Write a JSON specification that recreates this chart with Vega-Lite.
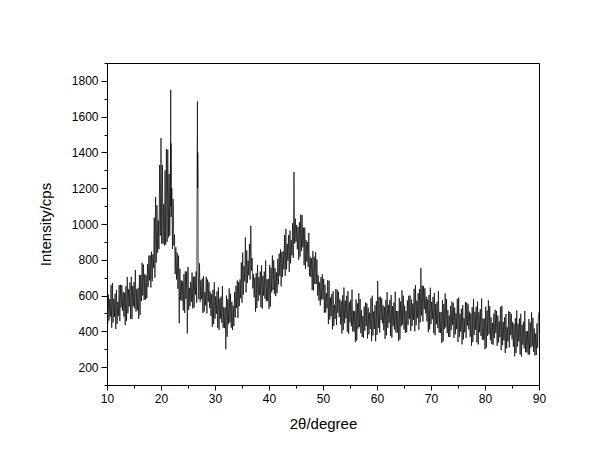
{
  "$schema": "https://vega.github.io/schema/vega-lite/v6.json",
  "width": 432,
  "height": 322,
  "autosize": "none",
  "padding": {"left": 107, "top": 63, "right": 61, "bottom": 81},
  "background": "white",
  "config": {
    "view": {"stroke": "black", "strokeWidth": 1},
    "axis": {"labelFont": "Liberation Sans", "titleFont": "Liberation Sans", "labelColor": "black", "titleColor": "black", "domainColor": "black", "tickColor": "black", "grid": false, "titleFontWeight": "normal"}
  },
  "data": {"values": [
    {"a":10.0,"i":635},{"a":10.125,"i":440},{"a":10.25,"i":605},{"a":10.375,"i":460},{"a":10.5,"i":580},{"a":10.625,"i":483},{"a":10.75,"i":658},{"a":10.875,"i":420},
    {"a":11.0,"i":670},{"a":11.125,"i":450},{"a":11.25,"i":582},{"a":11.375,"i":480},{"a":11.5,"i":610},{"a":11.625,"i":413},{"a":11.75,"i":631},{"a":11.875,"i":442},
    {"a":12.0,"i":565},{"a":12.125,"i":487},{"a":12.25,"i":659},{"a":12.375,"i":458},{"a":12.5,"i":660},{"a":12.625,"i":533},{"a":12.75,"i":658},{"a":12.875,"i":515},
    {"a":13.0,"i":620},{"a":13.125,"i":482},{"a":13.25,"i":616},{"a":13.375,"i":434},{"a":13.5,"i":652},{"a":13.625,"i":459},{"a":13.75,"i":703},{"a":13.875,"i":501},
    {"a":14.0,"i":635},{"a":14.125,"i":538},{"a":14.25,"i":673},{"a":14.375,"i":470},{"a":14.5,"i":705},{"a":14.625,"i":468},{"a":14.75,"i":653},{"a":14.875,"i":540},
    {"a":15.0,"i":675},{"a":15.125,"i":528},{"a":15.25,"i":743},{"a":15.375,"i":510},{"a":15.5,"i":635},{"a":15.625,"i":518},{"a":15.75,"i":643},{"a":15.875,"i":470},
    {"a":16.0,"i":715},{"a":16.125,"i":492},{"a":16.25,"i":716},{"a":16.375,"i":569},{"a":16.5,"i":783},{"a":16.625,"i":600},{"a":16.75,"i":773},{"a":16.875,"i":576},
    {"a":17.0,"i":720},{"a":17.125,"i":578},{"a":17.25,"i":713},{"a":17.375,"i":585},{"a":17.5,"i":775},{"a":17.625,"i":648},{"a":17.75,"i":823},{"a":17.875,"i":685},
    {"a":18.0,"i":825},{"a":18.125,"i":645},{"a":18.25,"i":845},{"a":18.375,"i":680},{"a":18.5,"i":830},{"a":18.625,"i":755},{"a":18.75,"i":1035},{"a":18.875,"i":700},
    {"a":19.0,"i":1150},{"a":19.125,"i":785},{"a":19.25,"i":1105},{"a":19.375,"i":840},{"a":19.5,"i":1020},{"a":19.625,"i":860},{"a":19.75,"i":1330},{"a":19.875,"i":935},
    {"a":20.0,"i":1480},{"a":20.125,"i":890},{"a":20.25,"i":1330},{"a":20.375,"i":890},{"a":20.5,"i":1110},{"a":20.625,"i":880},{"a":20.75,"i":1300},{"a":20.875,"i":885},
    {"a":21.0,"i":1420},{"a":21.125,"i":900},{"a":21.25,"i":1415},{"a":21.375,"i":925},{"a":21.5,"i":1280},{"a":21.625,"i":935},{"a":21.75,"i":1335},
    {"a":21.78,"i":1490},{"a":21.8,"i":1750},{"a":21.83,"i":1100},{"a":21.86,"i":1450},{"a":21.875,"i":1040},
    {"a":22.0,"i":1200},{"a":22.125,"i":860},{"a":22.25,"i":1140},{"a":22.375,"i":880},{"a":22.5,"i":940},{"a":22.625,"i":720},{"a":22.75,"i":870},{"a":22.875,"i":690},
    {"a":23.0,"i":840},{"a":23.125,"i":638},{"a":23.25,"i":823},{"a":23.375,"i":445},{"a":23.5,"i":750},{"a":23.625,"i":575},{"a":23.75,"i":685},{"a":23.875,"i":570},
    {"a":24.0,"i":680},{"a":24.125,"i":517},{"a":24.25,"i":719},{"a":24.375,"i":503},{"a":24.5,"i":735},{"a":24.625,"i":582},{"a":24.75,"i":734},{"a":24.875,"i":388},
    {"a":25.0,"i":760},{"a":25.125,"i":521},{"a":25.25,"i":643},{"a":25.375,"i":542},{"a":25.5,"i":675},{"a":25.625,"i":566},{"a":25.75,"i":729},{"a":25.875,"i":528},
    {"a":26.0,"i":705},{"a":26.125,"i":532},{"a":26.25,"i":707},{"a":26.375,"i":605},{"a":26.5,"i":735},{"a":26.625,"i":560},
    {"a":26.7,"i":1380},{"a":26.75,"i":1685},{"a":26.78,"i":1200},{"a":26.81,"i":1400},{"a":26.85,"i":1250},{"a":26.875,"i":770},
    {"a":27.0,"i":580},{"a":27.125,"i":780},{"a":27.25,"i":565},{"a":27.375,"i":685},{"a":27.5,"i":580},{"a":27.625,"i":695},{"a":27.75,"i":503},{"a":27.875,"i":708},
    {"a":28.0,"i":510},{"a":28.125,"i":620},{"a":28.25,"i":545},{"a":28.375,"i":705},{"a":28.5,"i":500},{"a":28.625,"i":690},{"a":28.75,"i":565},{"a":28.875,"i":675},
    {"a":29.0,"i":530},{"a":29.125,"i":622},{"a":29.25,"i":486},{"a":29.375,"i":608},{"a":29.5,"i":425},{"a":29.625,"i":633},{"a":29.75,"i":441},{"a":29.875,"i":674},
    {"a":30.0,"i":470},{"a":30.125,"i":595},{"a":30.25,"i":498},{"a":30.375,"i":623},{"a":30.5,"i":420},{"a":30.625,"i":645},{"a":30.75,"i":408},{"a":30.875,"i":583},
    {"a":31.0,"i":470},{"a":31.125,"i":595},{"a":31.25,"i":448},{"a":31.375,"i":653},{"a":31.5,"i":420},{"a":31.625,"i":535},{"a":31.75,"i":418},{"a":31.875,"i":533},
    {"a":32.0,"i":300},{"a":32.125,"i":600},{"a":32.25,"i":370},{"a":32.375,"i":580},{"a":32.5,"i":440},{"a":32.625,"i":640},{"a":32.75,"i":450},{"a":32.875,"i":610},
    {"a":33.0,"i":420},{"a":33.125,"i":565},{"a":33.25,"i":408},{"a":33.375,"i":543},{"a":33.5,"i":430},{"a":33.625,"i":620},{"a":33.75,"i":478},{"a":33.875,"i":653},
    {"a":34.0,"i":530},{"a":34.125,"i":685},{"a":34.25,"i":475},{"a":34.375,"i":675},{"a":34.5,"i":540},{"a":34.625,"i":690},{"a":34.75,"i":585},{"a":34.875,"i":785},
    {"a":35.0,"i":560},{"a":35.125,"i":840},{"a":35.25,"i":605},{"a":35.375,"i":765},{"a":35.5,"i":680},{"a":35.625,"i":925},{"a":35.75,"i":618},{"a":35.875,"i":853},
    {"a":36.0,"i":670},{"a":36.125,"i":795},{"a":36.25,"i":713},{"a":36.375,"i":888},{"a":36.5,"i":690},{"a":36.625,"i":990},{"a":36.75,"i":740},{"a":36.875,"i":810},
    {"a":37.0,"i":640},{"a":37.125,"i":720},{"a":37.25,"i":590},{"a":37.375,"i":700},{"a":37.5,"i":510},{"a":37.625,"i":725},{"a":37.75,"i":530},{"a":37.875,"i":770},
    {"a":38.0,"i":570},{"a":38.125,"i":703},{"a":38.25,"i":602},{"a":38.375,"i":734},{"a":38.5,"i":535},{"a":38.625,"i":768},{"a":38.75,"i":527},{"a":38.875,"i":709},
    {"a":39.0,"i":600},{"a":39.125,"i":734},{"a":39.25,"i":582},{"a":39.375,"i":796},{"a":39.5,"i":568},{"a":39.625,"i":691},{"a":39.75,"i":570},{"a":39.875,"i":693},
    {"a":40.0,"i":525},{"a":40.125,"i":771},{"a":40.25,"i":538},{"a":40.375,"i":755},{"a":40.5,"i":618},{"a":40.625,"i":824},{"a":40.75,"i":631},{"a":40.875,"i":797},
    {"a":41.0,"i":610},{"a":41.125,"i":753},{"a":41.25,"i":597},{"a":41.375,"i":729},{"a":41.5,"i":615},{"a":41.625,"i":803},{"a":41.75,"i":662},{"a":41.875,"i":834},
    {"a":42.0,"i":710},{"a":42.125,"i":858},{"a":42.25,"i":652},{"a":42.375,"i":844},{"a":42.5,"i":705},{"a":42.625,"i":848},{"a":42.75,"i":747},{"a":42.875,"i":939},
    {"a":43.0,"i":710},{"a":43.125,"i":973},{"a":43.25,"i":747},{"a":43.375,"i":889},{"a":43.5,"i":795},{"a":43.625,"i":938},{"a":43.75,"i":732},{"a":43.875,"i":964},
    {"a":44.0,"i":780},{"a":44.125,"i":910},{"a":44.25,"i":825},{"a":44.375,"i":1005},{"a":44.5,"i":810},{"a":44.625,"i":1290},{"a":44.75,"i":890},{"a":44.875,"i":1030},
    {"a":45.0,"i":900},{"a":45.125,"i":995},{"a":45.25,"i":858},{"a":45.375,"i":983},{"a":45.5,"i":800},{"a":45.625,"i":1010},{"a":45.75,"i":818},{"a":45.875,"i":1053},
    {"a":46.0,"i":850},{"a":46.125,"i":1050},{"a":46.25,"i":870},{"a":46.375,"i":980},{"a":46.5,"i":770},{"a":46.625,"i":980},{"a":46.75,"i":750},{"a":46.875,"i":910},
    {"a":47.0,"i":790},{"a":47.125,"i":900},{"a":47.25,"i":760},{"a":47.375,"i":950},{"a":47.5,"i":710},{"a":47.625,"i":815},{"a":47.75,"i":703},{"a":47.875,"i":808},
    {"a":48.0,"i":630},{"a":48.125,"i":848},{"a":48.25,"i":629},{"a":48.375,"i":817},{"a":48.5,"i":665},{"a":48.625,"i":843},{"a":48.75,"i":664},{"a":48.875,"i":802},
    {"a":49.0,"i":600},{"a":49.125,"i":713},{"a":49.25,"i":572},{"a":49.375,"i":674},{"a":49.5,"i":545},{"a":49.625,"i":703},{"a":49.75,"i":577},{"a":49.875,"i":719},
    {"a":50.0,"i":580},{"a":50.125,"i":693},{"a":50.25,"i":504},{"a":50.375,"i":661},{"a":50.5,"i":505},{"a":50.625,"i":613},{"a":50.75,"i":529},{"a":50.875,"i":686},
    {"a":51.0,"i":440},{"a":51.125,"i":683},{"a":51.25,"i":466},{"a":51.375,"i":589},{"a":51.5,"i":485},{"a":51.625,"i":608},{"a":51.75,"i":411},{"a":51.875,"i":624},
    {"a":52.0,"i":430},{"a":52.125,"i":548},{"a":52.25,"i":469},{"a":52.375,"i":636},{"a":52.5,"i":435},{"a":52.625,"i":633},{"a":52.75,"i":504},{"a":52.875,"i":621},
    {"a":53.0,"i":480},{"a":53.125,"i":579},{"a":53.25,"i":439},{"a":53.375,"i":568},{"a":53.5,"i":388},{"a":53.625,"i":601},{"a":53.75,"i":407},{"a":53.875,"i":645},
    {"a":54.0,"i":445},{"a":54.125,"i":571},{"a":54.25,"i":473},{"a":54.375,"i":599},{"a":54.5,"i":398},{"a":54.625,"i":624},{"a":54.75,"i":386},{"a":54.875,"i":562},
    {"a":55.0,"i":450},{"a":55.125,"i":575},{"a":55.25,"i":428},{"a":55.375,"i":633},{"a":55.5,"i":400},{"a":55.625,"i":515},{"a":55.75,"i":398},{"a":55.875,"i":513},
    {"a":56.0,"i":340},{"a":56.125,"i":578},{"a":56.25,"i":349},{"a":56.375,"i":556},{"a":56.5,"i":415},{"a":56.625,"i":613},{"a":56.75,"i":424},{"a":56.875,"i":581},
    {"a":57.0,"i":390},{"a":57.125,"i":518},{"a":57.25,"i":369},{"a":57.375,"i":486},{"a":57.5,"i":365},{"a":57.625,"i":538},{"a":57.75,"i":404},{"a":57.875,"i":561},
    {"a":58.0,"i":430},{"a":58.125,"i":556},{"a":58.25,"i":360},{"a":58.375,"i":532},{"a":58.5,"i":383},{"a":58.625,"i":504},{"a":58.75,"i":413},{"a":58.875,"i":585},
    {"a":59.0,"i":345},{"a":59.125,"i":599},{"a":59.25,"i":377},{"a":59.375,"i":511},{"a":59.5,"i":413},{"a":59.625,"i":546},{"a":59.75,"i":344},{"a":59.875,"i":568},
    {"a":60.0,"i":380},{"a":60.125,"i":681},{"a":60.25,"i":420},{"a":60.375,"i":592},{"a":60.5,"i":393},{"a":60.625,"i":594},{"a":60.75,"i":463},{"a":60.875,"i":584},
    {"a":61.0,"i":445},{"a":61.125,"i":546},{"a":61.25,"i":406},{"a":61.375,"i":537},{"a":61.5,"i":358},{"a":61.625,"i":574},{"a":61.75,"i":378},{"a":61.875,"i":619},
    {"a":62.0,"i":420},{"a":62.125,"i":548},{"a":62.25,"i":449},{"a":62.375,"i":576},{"a":62.5,"i":375},{"a":62.625,"i":603},{"a":62.75,"i":364},{"a":62.875,"i":541},
    {"a":63.0,"i":430},{"a":63.125,"i":561},{"a":63.25,"i":410},{"a":63.375,"i":622},{"a":63.5,"i":393},{"a":63.625,"i":514},{"a":63.75,"i":393},{"a":63.875,"i":514},
    {"a":64.0,"i":345},{"a":64.125,"i":586},{"a":64.25,"i":355},{"a":64.375,"i":567},{"a":64.5,"i":428},{"a":64.625,"i":629},{"a":64.75,"i":438},{"a":64.875,"i":599},
    {"a":65.0,"i":410},{"a":65.125,"i":543},{"a":65.25,"i":391},{"a":65.375,"i":514},{"a":65.5,"i":395},{"a":65.625,"i":573},{"a":65.75,"i":436},{"a":65.875,"i":599},
    {"a":66.0,"i":470},{"a":66.125,"i":600},{"a":66.25,"i":403},{"a":66.375,"i":578},{"a":66.5,"i":430},{"a":66.625,"i":555},{"a":66.75,"i":463},{"a":66.875,"i":638},
    {"a":67.0,"i":400},{"a":67.125,"i":658},{"a":67.25,"i":434},{"a":67.375,"i":571},{"a":67.5,"i":475},{"a":67.625,"i":613},{"a":67.75,"i":409},{"a":67.875,"i":636},
    {"a":68.0,"i":450},{"a":68.125,"i":753},{"a":68.25,"i":489},{"a":68.375,"i":656},{"a":68.5,"i":455},{"a":68.625,"i":653},{"a":68.75,"i":524},{"a":68.875,"i":641},
    {"a":69.0,"i":500},{"a":69.125,"i":593},{"a":69.25,"i":456},{"a":69.375,"i":579},{"a":69.5,"i":395},{"a":69.625,"i":603},{"a":69.75,"i":411},{"a":69.875,"i":644},
    {"a":70.0,"i":440},{"a":70.125,"i":565},{"a":70.25,"i":468},{"a":70.375,"i":593},{"a":70.5,"i":390},{"a":70.625,"i":615},{"a":70.75,"i":378},{"a":70.875,"i":553},
    {"a":71.0,"i":440},{"a":71.125,"i":566},{"a":71.25,"i":418},{"a":71.375,"i":624},{"a":71.5,"i":393},{"a":71.625,"i":509},{"a":71.75,"i":391},{"a":71.875,"i":507},
    {"a":72.0,"i":335},{"a":72.125,"i":574},{"a":72.25,"i":344},{"a":72.375,"i":553},{"a":72.5,"i":413},{"a":72.625,"i":611},{"a":72.75,"i":422},{"a":72.875,"i":581},
    {"a":73.0,"i":390},{"a":73.125,"i":519},{"a":73.25,"i":369},{"a":73.375,"i":488},{"a":73.5,"i":368},{"a":73.625,"i":541},{"a":73.75,"i":407},{"a":73.875,"i":566},
    {"a":74.0,"i":435},{"a":74.125,"i":559},{"a":74.25,"i":364},{"a":74.375,"i":533},{"a":74.5,"i":383},{"a":74.625,"i":501},{"a":74.75,"i":412},{"a":74.875,"i":581},
    {"a":75.0,"i":340},{"a":75.125,"i":589},{"a":75.25,"i":369},{"a":75.375,"i":498},{"a":75.5,"i":398},{"a":75.625,"i":526},{"a":75.75,"i":327},{"a":75.875,"i":546},
    {"a":76.0,"i":355},{"a":76.125,"i":474},{"a":76.25,"i":394},{"a":76.375,"i":563},{"a":76.5,"i":363},{"a":76.625,"i":561},{"a":76.75,"i":432},{"a":76.875,"i":551},
    {"a":77.0,"i":410},{"a":77.125,"i":510},{"a":77.25,"i":370},{"a":77.375,"i":500},{"a":77.5,"i":320},{"a":77.625,"i":535},{"a":77.75,"i":340},{"a":77.875,"i":580},
    {"a":78.0,"i":380},{"a":78.125,"i":509},{"a":78.25,"i":409},{"a":78.375,"i":538},{"a":78.5,"i":338},{"a":78.625,"i":566},{"a":78.75,"i":327},{"a":78.875,"i":506},
    {"a":79.0,"i":395},{"a":79.125,"i":524},{"a":79.25,"i":374},{"a":79.375,"i":583},{"a":79.5,"i":353},{"a":79.625,"i":471},{"a":79.75,"i":352},{"a":79.875,"i":471},
    {"a":80.0,"i":300},{"a":80.125,"i":538},{"a":80.25,"i":309},{"a":80.375,"i":516},{"a":80.5,"i":375},{"a":80.625,"i":573},{"a":80.75,"i":384},{"a":80.875,"i":541},
    {"a":81.0,"i":350},{"a":81.125,"i":478},{"a":81.25,"i":329},{"a":81.375,"i":446},{"a":81.5,"i":325},{"a":81.625,"i":498},{"a":81.75,"i":364},{"a":81.875,"i":521},
    {"a":82.0,"i":390},{"a":82.125,"i":514},{"a":82.25,"i":319},{"a":82.375,"i":488},{"a":82.5,"i":338},{"a":82.625,"i":456},{"a":82.75,"i":367},{"a":82.875,"i":536},
    {"a":83.0,"i":295},{"a":83.125,"i":543},{"a":83.25,"i":324},{"a":83.375,"i":452},{"a":83.5,"i":350},{"a":83.625,"i":478},{"a":83.75,"i":279},{"a":83.875,"i":497},
    {"a":84.0,"i":305},{"a":84.125,"i":423},{"a":84.25,"i":344},{"a":84.375,"i":512},{"a":84.5,"i":310},{"a":84.625,"i":508},{"a":84.75,"i":379},{"a":84.875,"i":497},
    {"a":85.0,"i":355},{"a":85.125,"i":453},{"a":85.25,"i":314},{"a":85.375,"i":442},{"a":85.5,"i":260},{"a":85.625,"i":473},{"a":85.75,"i":279},{"a":85.875,"i":517},
    {"a":86.0,"i":315},{"a":86.125,"i":443},{"a":86.25,"i":344},{"a":86.375,"i":472},{"a":86.5,"i":270},{"a":86.625,"i":498},{"a":86.75,"i":259},{"a":86.875,"i":437},
    {"a":87.0,"i":325},{"a":87.125,"i":454},{"a":87.25,"i":305},{"a":87.375,"i":514},{"a":87.5,"i":283},{"a":87.625,"i":401},{"a":87.75,"i":282},{"a":87.875,"i":401},
    {"a":88.0,"i":270},{"a":88.125,"i":469},{"a":88.25,"i":270},{"a":88.375,"i":449},{"a":88.5,"i":308},{"a":88.625,"i":506},{"a":88.75,"i":317},{"a":88.875,"i":476},
    {"a":89.0,"i":285},{"a":89.125,"i":416},{"a":89.25,"i":265},{"a":89.375,"i":387},{"a":89.5,"i":268},{"a":89.625,"i":444},{"a":89.75,"i":308},{"a":89.875,"i":469},
    {"a":90.0,"i":510}
  ]},
  "mark": {"type": "line", "color": "black", "strokeWidth": 0.7, "clip": true},
  "encoding": {
    "x": {"field": "a", "type": "quantitative",
      "scale": {"domain": [10, 90], "nice": false, "zero": false},
      "axis": {"title": "2θ/degree", "titleFontSize": 15, "titlePadding": 12, "labelFontSize": 12, "labelPadding": 3,
        "values": [10,15,20,25,30,35,40,45,50,55,60,65,70,75,80,85,90],
        "labelExpr": "datum.value % 10 === 0 ? datum.label : ''",
        "tickSize": {"condition": {"test": "datum.value % 10 === 0", "value": 5}, "value": 3},
        "labelFlush": false, "labelOverlap": false}},
    "y": {"field": "i", "type": "quantitative",
      "scale": {"domain": [100, 1900], "nice": false, "zero": false},
      "axis": {"title": "Intensity/cps", "titleFontSize": 15, "titlePadding": 18, "labelFontSize": 12, "labelPadding": 3,
        "values": [100,200,300,400,500,600,700,800,900,1000,1100,1200,1300,1400,1500,1600,1700,1800,1900],
        "labelExpr": "datum.value % 200 === 0 ? datum.label : ''",
        "format": "d",
        "tickSize": {"condition": {"test": "datum.value % 200 === 0", "value": 6}, "value": 3},
        "labelFlush": false, "labelOverlap": false}}
  }
}
